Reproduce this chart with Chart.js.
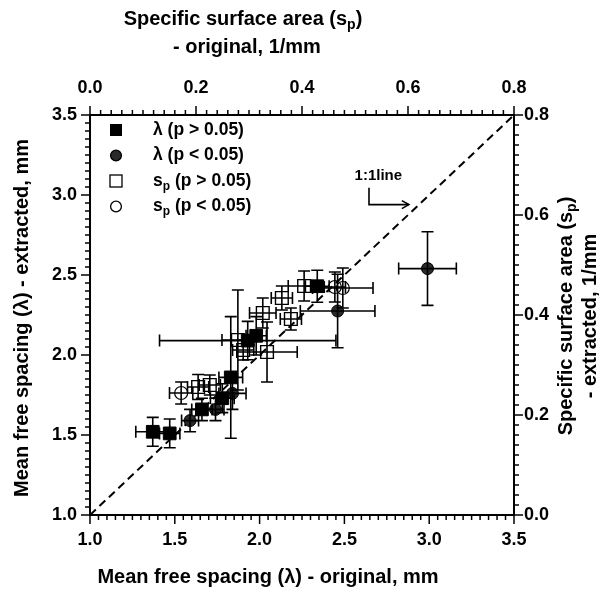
<!DOCTYPE html>
<html><head><meta charset="utf-8">
<script src="https://cdn.jsdelivr.net/npm/chart.js@4/dist/chart.umd.min.js"></script>
<style>html,body{margin:0;padding:0;background:#fff;}#wrap{width:600px;height:590px;}</style>
</head><body><div id="wrap"><canvas id="c" width="600" height="590"></canvas></div>
<script>
// ---- data: lambda (mean free spacing, mm), bottom/left axes ----
const lamHiX    = [1.37, 1.47, 1.66, 1.78, 1.83, 1.93, 1.98, 2.34];
const lamHiY    = [1.52, 1.51, 1.66, 1.73, 1.86, 2.09, 2.12, 2.43];
const lamHiXErr = [0.10, 0.06, 0.06, 0.07, 0.07, 0.52, 0.06, 0.07];
const lamHiYErr = [0.09, 0.09, 0.07, 0.09, 0.38, 0.12, 0.12, 0.10];

const lamLoX    = [1.59, 1.74, 1.84, 2.46, 2.99];
const lamLoY    = [1.59, 1.66, 1.76, 2.275, 2.54];
const lamLoXErr = [0.05, 0.05, 0.08, 0.22, 0.17];
const lamLoYErr = [0.07, 0.07, 0.10, 0.23, 0.23];

// ---- data: specific surface area s_p (1/mm), top/right axes ----
const spHiX    = [0.204, 0.226, 0.279, 0.289, 0.326, 0.334, 0.362, 0.379, 0.404];
const spHiY    = [0.256, 0.260, 0.350, 0.330, 0.404, 0.326, 0.434, 0.392, 0.458];
const spHiXErr = [0.020, 0.020, 0.030, 0.020, 0.025, 0.057, 0.020, 0.020, 0.030];
const spHiYErr = [0.025, 0.020, 0.100, 0.020, 0.030, 0.060, 0.024, 0.022, 0.030];

const spLoX    = [0.172, 0.462, 0.477];
const spLoY    = [0.244, 0.456, 0.454];
const spLoXErr = [0.022, 0.020, 0.057];
const spLoYErr = [0.022, 0.030, 0.040];

// 1:1 line
const oneToOne = [1.0, 3.5];

// axis ranges / ticks
const lamRange = [1.0, 3.5], lamMajor = 0.5, lamMinorX = 0.05, lamMinorY = 0.05;
const spRange = [0.0, 0.8], spMajor = 0.2, spMinor = 0.02;

// text
const legendItems = [
  {style:'sqFill', parts:[['λ (p > 0.05)',0]]},
  {style:'ciFill', parts:[['λ (p < 0.05)',0]]},
  {style:'sqOpen', parts:[['s',0],['p',1],[' (p > 0.05)',0]]},
  {style:'ciOpen', parts:[['s',0],['p',1],[' (p < 0.05)',0]]}
];
const titleBottom = [['Mean free spacing (λ) - original, mm',0]];
const titleLeft = [['Mean free spacing (λ) - extracted, mm',0]];
const titleTop1 = [['Specific surface area (s',0],['p',1],[')',0]];
const titleTop2 = [['- original, 1/mm',0]];
const titleRight1 = [['Specific surface area (s',0],['p',1],[')',0]];
const titleRight2 = [['- extracted, 1/mm',0]];
const annoText = '1:1line';
const annoPos = {tx:2.70, ty:3.12, ax:2.645, ay0:3.045, ay1:2.94, ax1:2.88};

const FONT = "'Liberation Sans', Arial, sans-serif";
const pts = (xs, ys) => xs.map((v,i)=>({x:v, y:ys[i]}));

function drawParts(ctx, parts, x, y, size, align){
  const w = parts.map(([t,sub])=>{ctx.font='bold '+(sub?Math.round(size*0.68):size)+'px '+FONT; return ctx.measureText(t).width;});
  const total = w.reduce((a,b)=>a+b,0);
  let cx = align==='left' ? x : x - total/2;
  ctx.textBaseline='middle'; ctx.textAlign='left';
  parts.forEach(([t,sub],i)=>{
    ctx.font='bold '+(sub?Math.round(size*0.68):size)+'px '+FONT;
    ctx.fillText(t, cx, y + (sub? size*0.32 : 0));
    cx += w[i];
  });
}

function drawMarker(ctx, style, x, y, s){
  ctx.save(); ctx.strokeStyle='#000'; ctx.fillStyle='#000'; ctx.lineWidth=1.3;
  if(style==='sqFill'){ctx.fillRect(x-s,y-s,2*s,2*s);}
  else if(style==='sqOpen'){ctx.strokeRect(x-s,y-s,2*s,2*s);}
  else if(style==='ciFill'){ctx.beginPath();ctx.arc(x,y,s*0.9,0,Math.PI*2);ctx.fillStyle='#2a2a2a';ctx.fill();ctx.stroke();}
  else {ctx.beginPath();ctx.arc(x,y,s*0.9,0,Math.PI*2);ctx.stroke();}
  ctx.restore();
}

const deco = {
  id:'deco',
  afterDatasetsDraw(chart){
    const ctx = chart.ctx, s = chart.scales;
    ctx.save(); ctx.strokeStyle='#000'; ctx.lineWidth=1.6;
    chart.data.datasets.forEach((ds,i)=>{
      if(!ds.errX) return;
      const xs = s[ds.xAxisID], ys = s[ds.yAxisID], cap = 6;
      ds.data.forEach((d,j)=>{
        const px = xs.getPixelForValue(d.x), py = ys.getPixelForValue(d.y);
        const x0 = xs.getPixelForValue(d.x-ds.errX[j]), x1 = xs.getPixelForValue(d.x+ds.errX[j]);
        const y0 = ys.getPixelForValue(d.y-ds.errY[j]), y1 = ys.getPixelForValue(d.y+ds.errY[j]);
        ctx.beginPath();
        ctx.moveTo(x0,py); ctx.lineTo(x1,py);
        ctx.moveTo(x0,py-cap); ctx.lineTo(x0,py+cap);
        ctx.moveTo(x1,py-cap); ctx.lineTo(x1,py+cap);
        ctx.moveTo(px,y0); ctx.lineTo(px,y1);
        ctx.moveTo(px-cap,y0); ctx.lineTo(px+cap,y0);
        ctx.moveTo(px-cap,y1); ctx.lineTo(px+cap,y1);
        ctx.stroke();
      });
    });
    ctx.restore();
  },
  afterDraw(chart){
    const ctx = chart.ctx, ca = chart.chartArea, s = chart.scales;
    ctx.save();
    ctx.strokeStyle='#000'; ctx.fillStyle='#000';
    // frame
    ctx.lineWidth=2;
    ctx.strokeRect(ca.left, ca.top, ca.right-ca.left, ca.bottom-ca.top);
    // ticks
    ctx.lineWidth=1.5;
    function ticks(scale, range, minor, major, side){
      const n = Math.round((range[1]-range[0])/minor);
      for(let k=0;k<=n;k++){
        const v = range[0]+k*minor;
        const isMaj = Math.abs(v/major - Math.round(v/major)) < 1e-6;
        const len = isMaj ? 9 : 5;
        const p = scale.getPixelForValue(v);
        ctx.beginPath();
        if(side==='bottom'){ctx.moveTo(p,ca.bottom);ctx.lineTo(p,ca.bottom+len);}
        if(side==='top'){ctx.moveTo(p,ca.top);ctx.lineTo(p,ca.top-len);}
        if(side==='left'){ctx.moveTo(ca.left,p);ctx.lineTo(ca.left-len,p);}
        if(side==='right'){ctx.moveTo(ca.right,p);ctx.lineTo(ca.right+len,p);}
        ctx.stroke();
      }
    }
    ticks(s.x, lamRange, lamMinorX, lamMajor, 'bottom');
    ticks(s.y, lamRange, lamMinorY, lamMajor, 'left');
    ticks(s.x2, spRange, spMinor, spMajor, 'top');
    ticks(s.y2, spRange, spMinor, spMajor, 'right');
    // titles
    drawParts(ctx, titleBottom, 268, 577, 20, 'center');
    drawParts(ctx, titleTop1, 243, 19, 20, 'center');
    drawParts(ctx, titleTop2, 247, 47, 20, 'center');
    ctx.save(); ctx.translate(22, 318); ctx.rotate(-Math.PI/2);
    drawParts(ctx, titleLeft, 0, 0, 20, 'center'); ctx.restore();
    ctx.save(); ctx.translate(566, 316); ctx.rotate(-Math.PI/2);
    drawParts(ctx, titleRight1, 0, 0, 20, 'center'); ctx.restore();
    ctx.save(); ctx.translate(590, 316); ctx.rotate(-Math.PI/2);
    drawParts(ctx, titleRight2, 0, 0, 20, 'center'); ctx.restore();
    // legend
    legendItems.forEach((it,i)=>{
      const y = 130 + i*25.5;
      drawMarker(ctx, it.style, 116, y, 6);
      drawParts(ctx, it.parts, 153, y, 17.5, 'left');
    });
    // 1:1 annotation
    const tx = s.x.getPixelForValue(annoPos.tx), ty = s.y.getPixelForValue(annoPos.ty);
    drawParts(ctx, [[annoText,0]], tx, ty, 15, 'center');
    const ax = s.x.getPixelForValue(annoPos.ax), ay0 = s.y.getPixelForValue(annoPos.ay0), ay1 = s.y.getPixelForValue(annoPos.ay1), ax1 = s.x.getPixelForValue(annoPos.ax1);
    ctx.lineWidth=1.6;
    ctx.beginPath(); ctx.moveTo(ax,ay0); ctx.lineTo(ax,ay1); ctx.lineTo(ax1,ay1); ctx.stroke();
    ctx.beginPath(); ctx.moveTo(ax1-7,ay1-4); ctx.lineTo(ax1,ay1); ctx.lineTo(ax1-7,ay1+4); ctx.stroke();
    ctx.restore();
  }
};

const tickFont = {family: FONT, size: 18, weight: 'bold'};
function fmt(v){ return Number(v).toFixed(1); }
const noGrid = {display:false, drawTicks:false, tickLength:0};

new Chart(document.getElementById('c'), {
  type: 'scatter',
  data: { datasets: [
    {label:'λ (p > 0.05)', data: pts(lamHiX, lamHiY), errX: lamHiXErr, errY: lamHiYErr, xAxisID:'x', yAxisID:'y',
     pointStyle:'rect', pointRadius:9, backgroundColor:'#000', borderColor:'#000', borderWidth:1},
    {label:'λ (p < 0.05)', data: pts(lamLoX, lamLoY), errX: lamLoXErr, errY: lamLoYErr, xAxisID:'x', yAxisID:'y',
     pointStyle:'circle', pointRadius:6, backgroundColor:'#2a2a2a', borderColor:'#000', borderWidth:1},
    {label:'sp (p > 0.05)', data: pts(spHiX, spHiY), errX: spHiXErr, errY: spHiYErr, xAxisID:'x2', yAxisID:'y2',
     pointStyle:'rect', pointRadius:9, backgroundColor:'rgba(255,255,255,0)', borderColor:'#000', borderWidth:1.4},
    {label:'sp (p < 0.05)', data: pts(spLoX, spLoY), errX: spLoXErr, errY: spLoYErr, xAxisID:'x2', yAxisID:'y2',
     pointStyle:'circle', pointRadius:6.5, backgroundColor:'rgba(255,255,255,0)', borderColor:'#000', borderWidth:1.2},
    {type:'line', label:'1:1', data: pts(oneToOne, oneToOne), xAxisID:'x', yAxisID:'y',
     borderColor:'#000', borderWidth:2, borderDash:[8,5], pointRadius:0, fill:false}
  ]},
  options: {
    responsive:false, devicePixelRatio:1, animation:false, events:[],
    layout:{padding:0},
    plugins:{legend:{display:false}, tooltip:{enabled:false}},
    scales:{
      x:{type:'linear', position:'bottom', min:lamRange[0], max:lamRange[1],
         afterFit(sc){sc.height=75;},
         grid:noGrid, border:{display:false},
         ticks:{stepSize:lamMajor, color:'#000', font:tickFont, padding:14, callback:fmt, autoSkip:false, maxRotation:0}},
      y:{type:'linear', position:'left', min:lamRange[0], max:lamRange[1],
         afterFit(sc){sc.width=90;},
         grid:noGrid, border:{display:false},
         ticks:{stepSize:lamMajor, color:'#000', font:tickFont, padding:13, callback:fmt, autoSkip:false}},
      x2:{type:'linear', position:'top', min:spRange[0], max:spRange[1],
         afterFit(sc){sc.height=115;},
         grid:noGrid, border:{display:false},
         ticks:{stepSize:spMajor, color:'#000', font:tickFont, padding:16, callback:fmt, autoSkip:false, maxRotation:0}},
      y2:{type:'linear', position:'right', min:spRange[0], max:spRange[1],
         afterFit(sc){sc.width=86;},
         grid:noGrid, border:{display:false},
         ticks:{stepSize:spMajor, color:'#000', font:tickFont, padding:10, callback:fmt, autoSkip:false}}
    }
  },
  plugins:[deco]
});
</script></body></html>
